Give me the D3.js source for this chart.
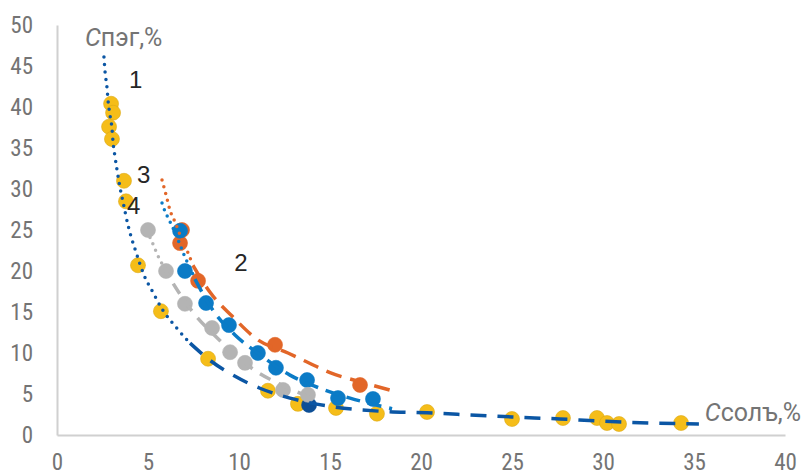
<!DOCTYPE html>
<html>
<head>
<meta charset="utf-8">
<script src="https://cdn.jsdelivr.net/npm/d3@7"></script>
<style>
  html, body { margin: 0; padding: 0; background: #fff; }
  svg { display: block; }
  .tick-label { font-family: "Liberation Sans Narrow", "Roboto Condensed", "DejaVu Sans Condensed", sans-serif; font-size: 23px; fill: #747474; }
  .axis-title { font-family: Roboto, "Liberation Sans", sans-serif; font-size: 25px; fill: #747474; }
  .curve-label { font-family: "Liberation Sans", Arial, sans-serif; font-size: 24px; fill: #262626; }
</style>
</head>
<body>
<svg id="chart" width="807" height="475"></svg>
<script>
const xTicks = [0, 5, 10, 15, 20, 25, 30, 35, 40];
const yTicks = [0, 5, 10, 15, 20, 25, 30, 35, 40, 45, 50];

// 1 — yellow points
const s1X = [2.97, 3.08, 2.86, 3.02, 3.68, 3.79, 4.45, 5.71, 8.30, 11.59, 13.24, 15.33, 17.58, 20.33, 25.0, 27.8, 29.67, 30.22, 30.88, 34.29];
const s1Y = [40.4, 39.3, 37.6, 36.1, 31.0, 28.5, 20.7, 15.1, 9.3, 5.4, 3.8, 3.3, 2.6, 2.8, 1.95, 2.07, 2.07, 1.46, 1.34, 1.46];
// navy point
const s0X = [13.85];
const s0Y = [3.66];
// 2 — orange
const s2X = [6.87, 6.76, 7.75, 11.98, 16.65];
const s2Y = [25.0, 23.4, 18.8, 11.0, 6.1];
// 3 — blue
const s3X = [6.76, 7.03, 8.19, 9.45, 11.04, 12.03, 13.74, 15.44, 17.36];
const s3Y = [24.9, 20.0, 16.1, 13.4, 10.0, 8.2, 6.7, 4.5, 4.4];
// 4 — gray
const s4X = [5.0, 5.99, 7.03, 8.52, 9.51, 10.33, 12.42, 13.79];
const s4Y = [25.0, 20.0, 16.0, 13.05, 10.1, 8.8, 5.5, 4.9];

// trend lines (dotted part, dashed part)
const t1DotX = [2.58, 2.64, 2.75, 2.80, 2.91, 3.02, 3.08, 3.19, 3.30, 3.46, 3.63, 3.90, 4.34, 4.78, 5.27, 5.82, 6.48, 7.31];
const t1DotY = [46.1, 44.3, 42.3, 40.9, 39.0, 37.4, 35.7, 33.9, 32.3, 30.2, 28.4, 25.6, 22.3, 19.5, 17.4, 15.2, 13.3, 11.2];
const t1DashX = [7.31, 8.41, 9.67, 11.15, 12.8, 15.0, 17.75, 20.33, 22.7, 25.0, 27.64, 29.84, 32.58, 35.27];
const t1DashY = [11.2, 9.1, 7.3, 5.7, 4.5, 3.5, 2.9, 2.7, 2.45, 2.2, 1.95, 1.7, 1.46, 1.35];

const t2DotX = [5.77, 5.99, 6.21, 6.48, 6.76, 7.2, 7.47];
const t2DotY = [31.1, 29.3, 27.4, 26.0, 24.4, 22.2, 20.7];
const t2DashX = [7.47, 8.41, 9.62, 11.04, 12.69, 13.74, 15.0, 16.65, 18.74];
const t2DashY = [20.7, 17.4, 14.5, 11.6, 10.0, 8.9, 7.6, 6.5, 5.2];

const t3DotX = [5.77, 5.93, 6.10, 6.32, 6.54, 6.76, 7.03, 7.31, 7.58];
const t3DotY = [28.3, 27.3, 26.5, 25.5, 24.4, 23.2, 21.7, 20.4, 19.0];
const t3DashX = [7.58, 8.57, 9.78, 11.15, 12.8, 14.45, 16.1, 18.41];
const t3DashY = [19.0, 15.2, 12.2, 9.8, 7.3, 5.7, 4.5, 3.2];

const t4DotX = [5.11, 5.27, 5.44, 5.60, 5.82];
const t4DotY = [24.1, 23.3, 22.4, 21.6, 20.7];
const t4DashX = [5.82, 6.32, 6.87, 7.64, 8.68, 9.78, 10.99, 12.25, 13.9];
const t4DashY = [20.7, 18.7, 16.8, 14.5, 12.1, 9.8, 7.7, 6.2, 4.6];

const labelText = ['1', '2', '3', '4'];
const labelX = [4.32, 10.1, 4.76, 4.21];
const labelY = [42.3, 20.0, 30.7, 27.0];

const zip = (xs, ys) => xs.map((x, i) => [x, ys[i]]);

const svg = d3.select('#chart');
const x = d3.scaleLinear().domain([0, 40]).range([57, 785]);
const y = d3.scaleLinear().domain([0, 50]).range([435, 25]);

// axes (no tick marks, Excel style)
const xAxis = svg.append('g').attr('transform', `translate(0,${y(0)})`)
  .call(d3.axisBottom(x).tickValues(xTicks).tickSize(0).tickPadding(19));
xAxis.select('.domain').attr('stroke', '#d0d0d0').attr('stroke-width', 2);
xAxis.selectAll('text').attr('class', 'tick-label').attr('dy', '0.7em').attr('fill', null);

const yAxis = svg.append('g').attr('transform', `translate(${x(0)},0)`)
  .call(d3.axisLeft(y).tickValues(yTicks).tickSize(0).tickPadding(24));
yAxis.select('.domain').attr('stroke', '#d0d0d0').attr('stroke-width', 2);
yAxis.selectAll('text').attr('class', 'tick-label').attr('fill', null);

// axis titles
const yTitle = svg.append('text').attr('class', 'axis-title').attr('x', 85).attr('y', 46);
yTitle.append('tspan').attr('font-style', 'italic').text('C');
yTitle.append('tspan').text('пэг,%');

const xTitle = svg.append('text').attr('class', 'axis-title')
  .attr('text-anchor', 'end').attr('x', 801).attr('y', 421);
xTitle.append('tspan').attr('font-style', 'italic').text('C');
xTitle.append('tspan').text('солъ,%');

// markers
function dots(xs, ys, fill, stroke) {
  svg.append('g').selectAll('circle')
    .data(zip(xs, ys))
    .join('circle')
    .attr('cx', (d) => x(d[0]))
    .attr('cy', (d) => y(d[1]))
    .attr('r', 7.5)
    .attr('fill', fill)
    .attr('stroke', stroke)
    .attr('stroke-width', 0.6);
}
dots(s1X, s1Y, '#f5bd19', '#dcaa16');
dots(s0X, s0Y, '#0d4f96', '#0d4f96');
dots(s2X, s2Y, '#e26628', '#e26628');
dots(s3X, s3Y, '#0b7bc6', '#0b7bc6');
dots(s4X, s4Y, '#b4b4b4', '#b4b4b4');

// trend lines
const line = d3.line().x((d) => x(d[0])).y((d) => y(d[1])).curve(d3.curveMonotoneX);
function trend(xs, ys, color, dash, cap) {
  svg.append('path')
    .attr('d', line(zip(xs, ys)))
    .attr('fill', 'none')
    .attr('stroke', color)
    .attr('stroke-width', 3.5)
    .attr('stroke-linecap', cap)
    .attr('stroke-dasharray', dash);
}
trend(t4DotX, t4DotY, '#b4b4b4', '0 7', 'round');
trend(t4DashX, t4DashY, '#b4b4b4', '12 9', 'butt');
trend(t2DotX, t2DotY, '#e26628', '0 7', 'round');
trend(t2DashX, t2DashY, '#e26628', '16 9', 'butt');
trend(t3DotX, t3DotY, '#0b7bc6', '0 7', 'round');
trend(t3DashX, t3DashY, '#0b7bc6', '14 8', 'butt');
trend(t1DotX, t1DotY, '#0b56a4', '0 7.5', 'round');
trend(t1DashX, t1DashY, '#0b56a4', '16 11', 'butt');

// curve numbers
svg.append('g').selectAll('text')
  .data(labelText)
  .join('text')
  .attr('class', 'curve-label')
  .attr('text-anchor', 'middle')
  .attr('x', (d, i) => x(labelX[i]))
  .attr('y', (d, i) => y(labelY[i]))
  .text((d) => d);
</script>
</body>
</html>
